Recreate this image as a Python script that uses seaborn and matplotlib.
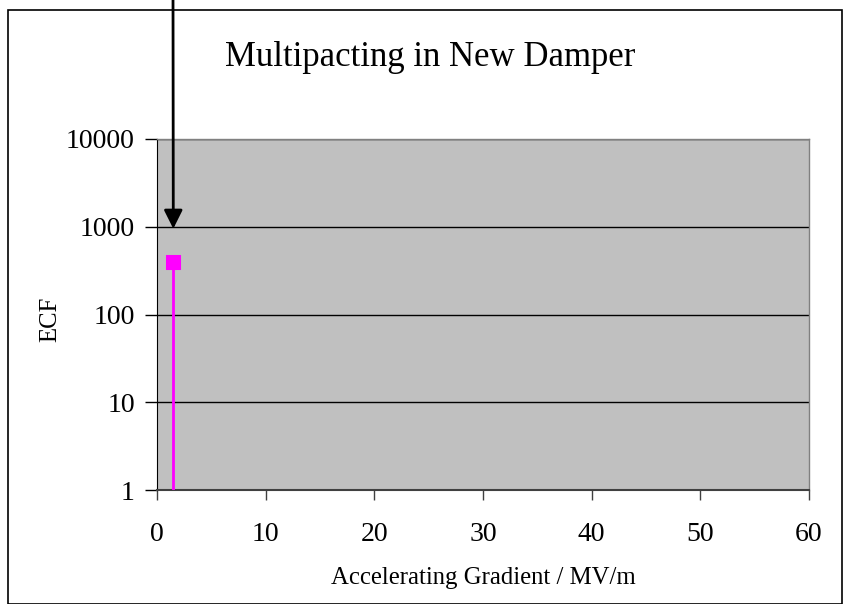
import numpy as np
import pandas as pd
import seaborn as sns
import matplotlib.pyplot as plt
from matplotlib.patches import Rectangle

# --- data ---
gradient = [1.5]          # MV/m
ecf = [400]               # ECF value at the multipacting point
arrow_target = (1.5, 950)
x_ticks = [0, 10, 20, 30, 40, 50, 60]
y_ticks = [1, 10, 100, 1000, 10000]

df = pd.DataFrame({"gradient": gradient, "ecf": ecf})

sns.set_style("white")
plt.rcParams['font.family'] = ['Liberation Serif', 'DejaVu Serif']
plt.rcParams['text.color'] = 'black'
plt.rcParams['axes.labelcolor'] = 'black'
plt.rcParams['xtick.color'] = 'black'
plt.rcParams['ytick.color'] = 'black'

fig = plt.figure(figsize=(8.43, 6.04), dpi=100)
ax = fig.add_axes([157 / 843, 1 - 490 / 604, 652 / 843, 351 / 604])
ax.set_facecolor("#C0C0C0")

# drop line from the point down to the axis bottom
ax.vlines(df["gradient"], 0.1, df["ecf"], color="#FF00FF", lw=2, zorder=3)
sns.scatterplot(data=df, x="gradient", y="ecf", ax=ax, marker="s", s=90,
                color="#FF00FF", edgecolor="#FF00FF", zorder=4, legend=False)

ax.set_yscale("log")
ax.set_xlim(0, 60)
ax.set_ylim(1, 10000)
ax.set_xticks(x_ticks)
ax.set_yticks(y_ticks)
ax.set_yticklabels([str(v) for v in y_ticks])
ax.minorticks_off()
ax.grid(axis="y", color="black", lw=1)
ax.grid(axis="x", visible=False)
ax.set_axisbelow(True)

for side in ["top", "right"]:
    ax.spines[side].set_color("#808080")
    ax.spines[side].set_linewidth(1)
ax.spines["left"].set_color("black")
ax.spines["bottom"].set_color("#404040")
ax.spines["bottom"].set_linewidth(1.5)

ax.tick_params(axis="x", direction="out", length=7, width=1, pad=16,
               labelsize=20, bottom=True, color="#404040", labelcolor="black")
ax.tick_params(axis="y", direction="out", length=9, width=1, pad=7,
               labelsize=20, left=True, color="black", labelcolor="black")

ax.set_xlabel("Accelerating Gradient / MV/m", fontsize=17.8, va="center")
ax.set_ylabel("ECF", fontsize=17.8, va="center")
ax.xaxis.set_label_coords(0.5, (490 - 578) / 351)
ax.yaxis.set_label_coords((50 - 157) / 652, 0.485)

fig.text(430 / 843, 1 - 57 / 604, "Multipacting in New Damper",
         fontsize=25, ha="center", va="center", color="black")

# arrow pointing down at the point
ax.annotate("", xy=arrow_target, xycoords="data",
            xytext=(173 / 843, 1.02), textcoords="figure fraction",
            arrowprops=dict(arrowstyle="-|>", color="black", lw=2,
                            mutation_scale=28, shrinkA=0, shrinkB=0),
            annotation_clip=False)

# figure border
fig.patches.append(Rectangle((8 / 843, 0), 834 / 843, 1 - 10 / 604,
                             transform=fig.transFigure, fill=False,
                             edgecolor="black", lw=1.2))

fig.savefig("out.png", dpi=100)
